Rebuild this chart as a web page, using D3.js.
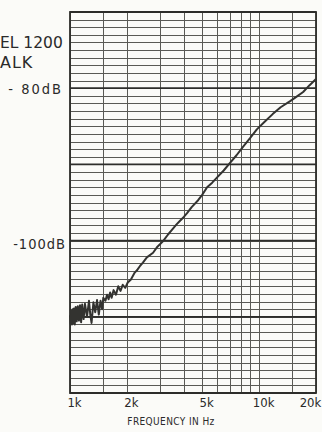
<!DOCTYPE html>
<html>
<head>
<meta charset="utf-8">
<script src="https://cdn.jsdelivr.net/npm/d3@7"></script>
<style>
  html, body { margin: 0; padding: 0; background: #fbfbf8; overflow: hidden; }
  svg { display: block; }
  .lbl { font-family: "DejaVu Sans", "Liberation Sans", sans-serif; fill: #2a2a2a; }
  .tick text { font-family: "DejaVu Sans Condensed", "DejaVu Sans", sans-serif; font-stretch: condensed; fill: #2a2a2a; }
</style>
</head>
<body>
<svg id="chart" width="322" height="432"></svg>
<script>
// ---- data ----
// the title is cropped at the left edge of the reference; only the visible part is kept
const titleLines = ["EL 1200", "ALK"];
const xAxisTitle = "FREQUENCY IN Hz";

const freqHz = [
  1000, 1008, 1016, 1024, 1032, 1040, 1050, 1060, 1072, 1085, 1100, 1115, 1130, 1145,
  1160, 1180, 1200, 1230, 1260, 1280, 1300, 1330, 1360, 1390, 1420, 1450, 1480, 1500,
  1540, 1570, 1600, 1630, 1660, 1700, 1750, 1800, 1850, 1900, 1960, 2020, 2100, 2200,
  2260, 2350, 2430, 2550, 2750, 2900, 3100, 3300, 3460, 3650, 3820, 4000, 4160, 4400,
  4760, 5000, 5310, 5650, 6000, 6500, 7020, 7600, 8220, 9000, 9730, 10700, 11800,
  13000, 14600, 15800, 17100, 18500, 20000
];
const crosstalkDb = [
  -109.8, -110.9, -109.2, -111.0, -109.0, -110.8, -108.9, -111.0, -108.7, -110.6, -108.6, -110.5, -108.5, -110.7,
  -108.4, -110.3, -108.3, -110.0, -107.9, -109.7, -110.8, -108.1, -109.4, -107.8, -109.7, -107.9, -109.0, -107.5,
  -107.9, -107.1, -107.7, -106.8, -107.5, -106.5, -107.1, -106.0, -106.6, -105.8, -106.2, -105.5, -105.1, -104.2,
  -103.9, -103.3, -102.9, -102.2, -101.6, -100.8, -100.1, -99.2, -98.6, -97.9, -97.4, -96.9, -96.4, -95.6,
  -94.7, -94.0, -93.0, -92.4, -91.7, -90.8, -89.8, -88.8, -87.7, -86.5, -85.4, -84.4, -83.4,
  -82.5, -81.7, -81.1, -80.5, -79.6, -78.8
];

const xTickValues = [1000, 2000, 5000, 10000, 20000];
const xTickLabels = ["1k", "2k", "5k", "10k", "20k"];
const xGridValues = [1000, 1500, 2000, 3000, 4000, 5000, 6000, 7000, 8000, 9000, 10000, 15000, 20000];
const yDomain = [-120, -70];
const yMinorStep = 1;
const yMajorValues = [-120, -110, -100, -90, -80, -70];
const yLabelValues = [-80, -100];
const yLabelTexts = ["- 80dB", "-100dB"];

// ---- layout ----
const svg = d3.select("#chart");
const L = 70, R = 316, T = 12, B = 393;

const x = d3.scaleLog().domain([1000, 20000]).range([L, R]);
const y = d3.scaleLinear().domain(yDomain).range([B, T]);

const gridMinor = d3.range(yDomain[0], yDomain[1] + 0.001, yMinorStep);

// horizontal minor grid
svg.append("g")
  .selectAll("line").data(gridMinor).join("line")
  .attr("x1", L).attr("x2", R)
  .attr("y1", d => Math.round(y(d)) + 0.5).attr("y2", d => Math.round(y(d)) + 0.5)
  .attr("stroke", "#5a5a55").attr("stroke-width", 1);

// vertical grid
svg.append("g")
  .selectAll("line").data(xGridValues).join("line")
  .attr("x1", d => Math.round(x(d)) + 0.5).attr("x2", d => Math.round(x(d)) + 0.5)
  .attr("y1", T).attr("y2", B)
  .attr("stroke", "#5a5a55").attr("stroke-width", 1);

// major horizontal lines
svg.append("g")
  .selectAll("line").data(yMajorValues).join("line")
  .attr("x1", L).attr("x2", R)
  .attr("y1", d => y(d)).attr("y2", d => y(d))
  .attr("stroke", "#2e2e2b").attr("stroke-width", 1.8);

// frame
svg.append("rect")
  .attr("x", L).attr("y", T).attr("width", R - L).attr("height", B - T)
  .attr("fill", "none").attr("stroke", "#2e2e2b").attr("stroke-width", 1.8);

// curve
const line = d3.line().x((d, i) => x(freqHz[i])).y(d => y(d));
svg.append("path")
  .datum(crosstalkDb)
  .attr("d", line)
  .attr("fill", "none")
  .attr("stroke", "#333330")
  .attr("stroke-width", 2)
  .attr("stroke-linejoin", "round");

// x tick labels
const xAxis = d3.axisBottom(x)
  .tickValues(xTickValues)
  .tickFormat((d, i) => xTickLabels[i])
  .tickSize(0).tickPadding(5);
const gx = svg.append("g").attr("transform", `translate(0,${B})`).call(xAxis);
gx.select(".domain").remove();
gx.selectAll(".tick text")
  .attr("font-size", 13)
  .attr("dx", (d, i) => i === xTickValues.length - 1 ? -6 : 4);

// y labels
const yAxis = d3.axisLeft(y)
  .tickValues(yLabelValues)
  .tickFormat((d, i) => yLabelTexts[i])
  .tickSize(0).tickPadding(4);
const gy = svg.append("g").attr("transform", `translate(${L},0)`).call(yAxis);
gy.select(".domain").remove();
gy.selectAll(".tick text")
  .attr("class", "lbl")
  .attr("font-size", 14.5)
  .attr("letter-spacing", (d, i) => i === 0 ? 2 : 1)
  .attr("dx", (d, i) => i === 0 ? -3 : 0)
  .attr("dy", (d, i) => i === 0 ? "0.35em" : "0.55em");

// title (only the part visible in the cropped reference)
svg.append("text").attr("class", "lbl")
  .attr("x", 0).attr("y", 48).attr("text-anchor", "start")
  .attr("font-size", 15.5).text(titleLines[0]);
svg.append("text").attr("class", "lbl")
  .attr("x", 0).attr("y", 68).attr("text-anchor", "start")
  .attr("font-size", 16).attr("letter-spacing", 1).text(titleLines[1]);

// x-axis title
svg.append("text").attr("class", "lbl")
  .attr("x", 171).attr("y", 425).attr("text-anchor", "middle")
  .attr("font-size", 10).attr("font-stretch", "condensed")
  .attr("letter-spacing", 0.4)
  .text(xAxisTitle);
</script>
</body>
</html>
